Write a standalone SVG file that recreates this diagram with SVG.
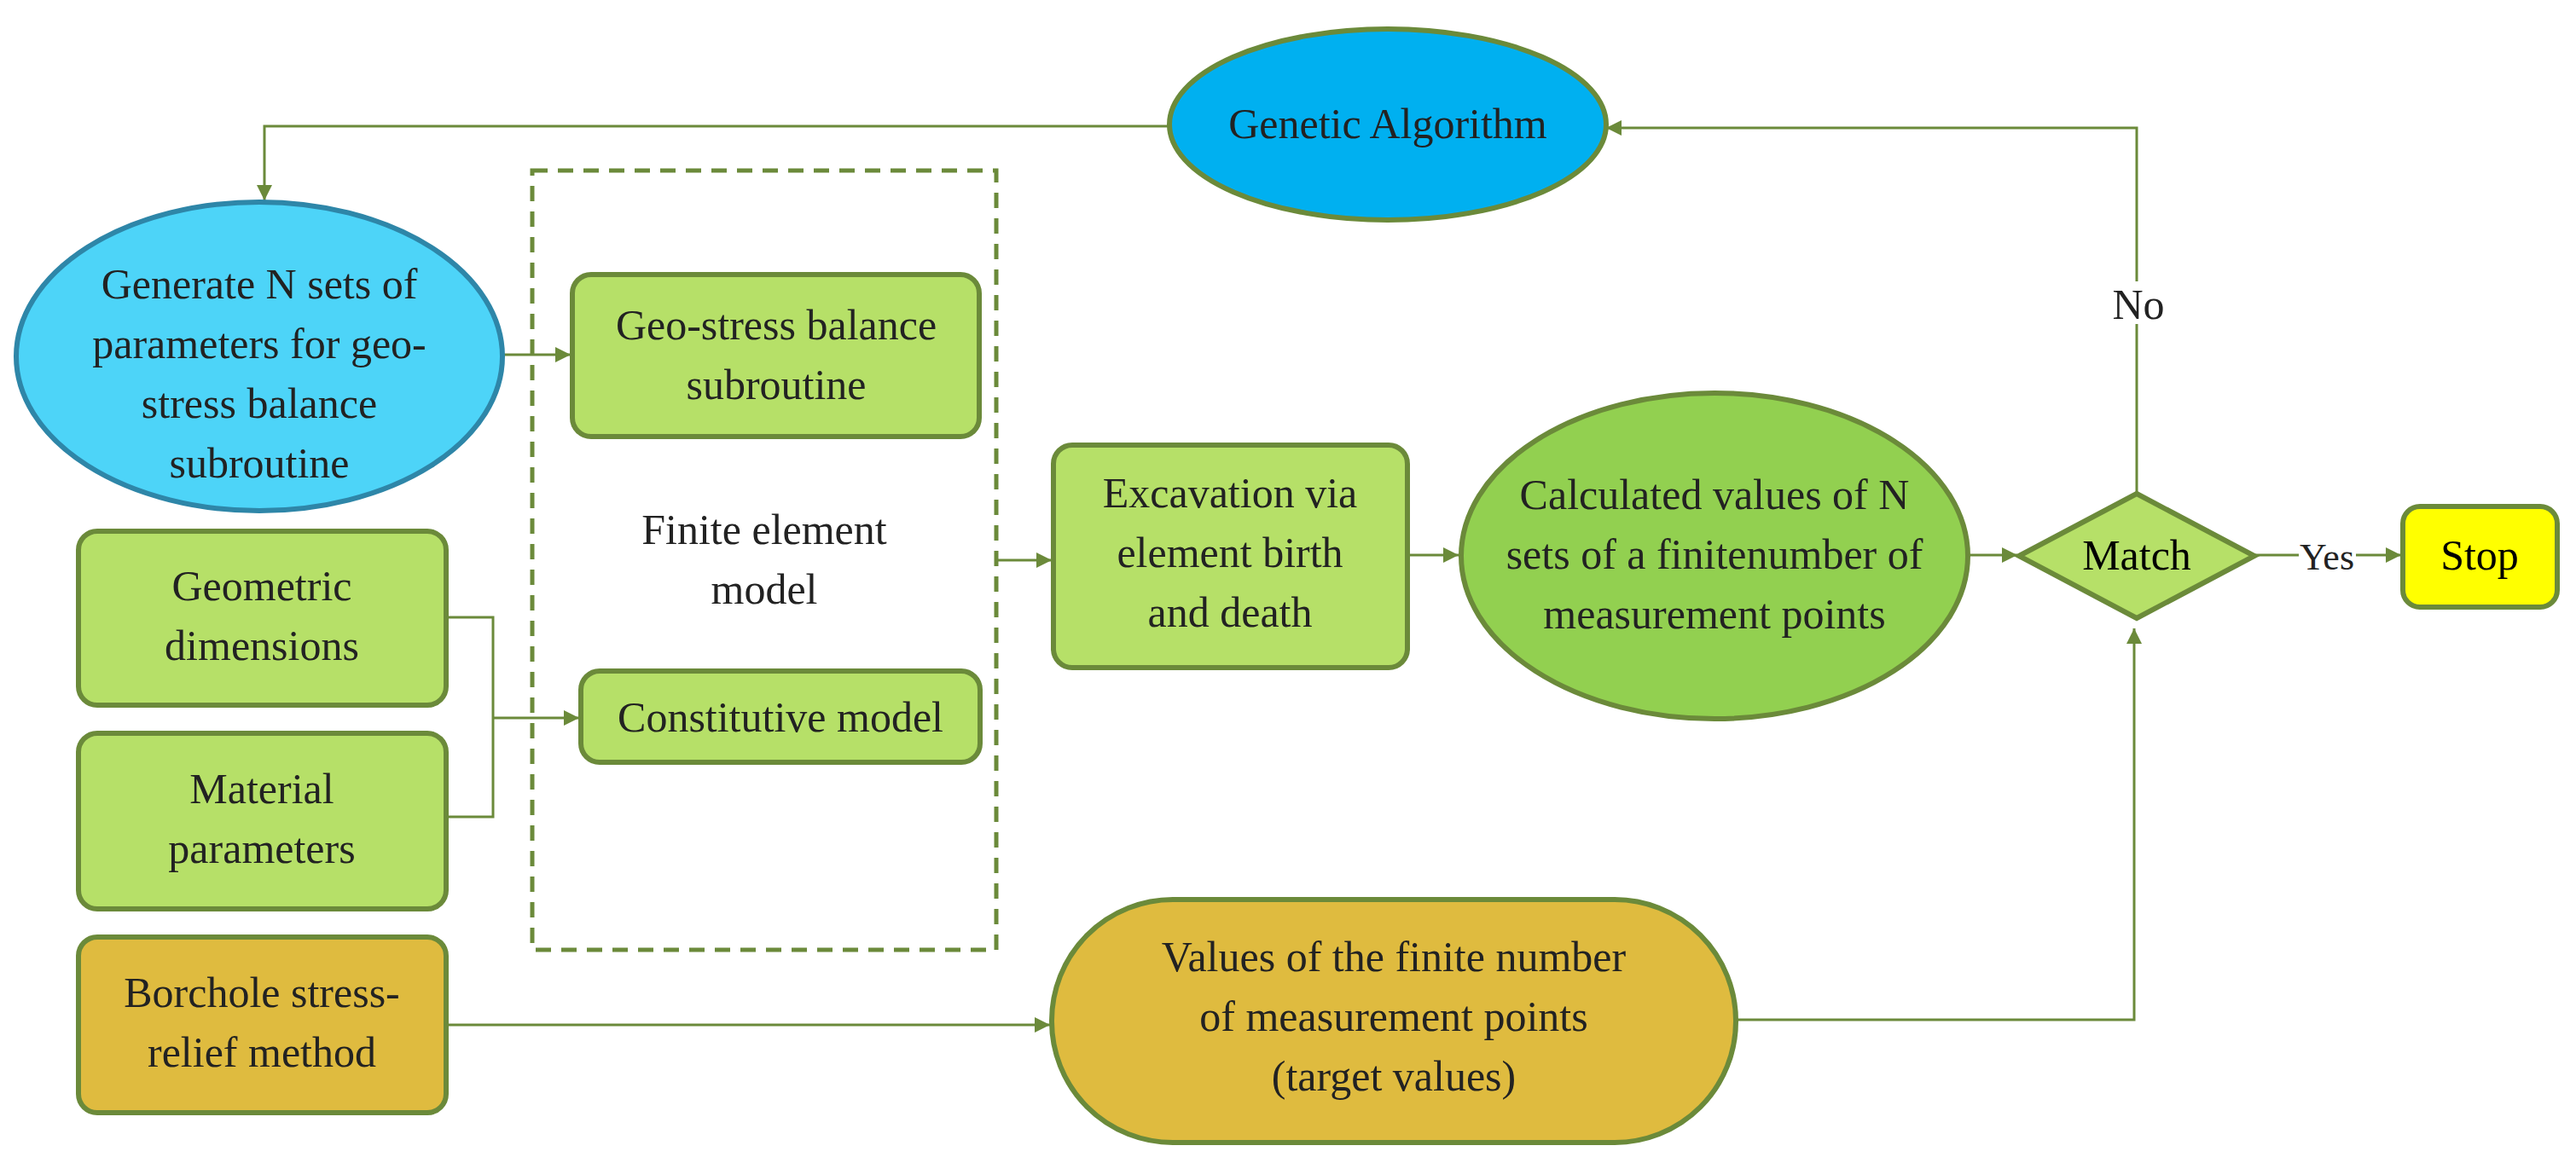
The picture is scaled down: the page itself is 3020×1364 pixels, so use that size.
<svg xmlns="http://www.w3.org/2000/svg" width="3020" height="1364" viewBox="0 0 3020 1364">
<defs>
<marker id="ah" viewBox="0 0 10 10" refX="10" refY="5" markerWidth="6" markerHeight="6" orient="auto" markerUnits="userSpaceOnUse" style="overflow:visible">
<path d="M0,0 L10,5 L0,10 z" fill="#6b8a3a" transform="scale(3)" transform-origin="10 5"/>
</marker>
<style>
text{font-family:"Liberation Serif","Times New Roman",serif;font-size:50px;fill:#222;text-anchor:middle}
.c{fill:none;stroke:#6b8a3a;stroke-width:3}
.g{fill:#b6e068;stroke:#6b8a3a;stroke-width:6}
</style>
</defs>
<rect width="3020" height="1364" fill="#fff"/>
<g id="connectors">
<path class="c" d="M1372,148 H310 V235" marker-end="url(#ah)"/>
<path class="c" d="M589,416 H669" marker-end="url(#ah)"/>
<path class="c" d="M523,724 H578 V958 H523 M578,842 H679" marker-end="url(#ah)"/>
<path class="c" d="M1168,657 H1233" marker-end="url(#ah)"/>
<path class="c" d="M1650,651 H1710" marker-end="url(#ah)"/>
<path class="c" d="M2307,651 H2365" marker-end="url(#ah)"/>
<path class="c" d="M2643,651 H2695 M2762,651 H2815" marker-end="url(#ah)"/>
<path class="c" d="M2505,579 V380 M2505,330 V150 H1883" marker-end="url(#ah)"/>
<path class="c" d="M523,1202 H1231" marker-end="url(#ah)"/>
<path class="c" d="M2035,1196 H2502 V737" marker-end="url(#ah)"/>
<text x="2507" y="374">No</text>
<text x="2728" y="668" style="font-size:44px">Yes</text>
</g>
<g id="ga"><ellipse cx="1627" cy="146" rx="256" ry="112" fill="#00b0f0" stroke="#6b8a3a" stroke-width="6"/><text x="1627" y="162">Genetic  Algorithm</text></g>
<g id="generate"><ellipse cx="304" cy="418" rx="285" ry="181" fill="#4dd4f8" stroke="#2e86a8" stroke-width="6"/>
<text x="304" y="350">Generate N sets of</text><text x="304" y="420">parameters for geo-</text><text x="304" y="490">stress balance</text><text x="304" y="560">subroutine</text></g>
<g id="fem"><rect x="624" y="200" width="544" height="914" fill="none" stroke="#6b8a3a" stroke-width="5" stroke-dasharray="18,12"/>
<text x="896" y="638">Finite element</text><text x="896" y="708">model</text></g>
<g id="geo"><rect class="g" x="671" y="322" width="477" height="190" rx="22"/><text x="910" y="398">Geo-stress balance</text><text x="910" y="468">subroutine</text></g>
<g id="const"><rect class="g" x="681" y="787" width="468" height="107" rx="22"/><text x="915" y="858">Constitutive model</text></g>
<g id="geom"><rect class="g" x="92" y="623" width="431" height="204" rx="22"/><text x="307" y="704">Geometric</text><text x="307" y="774">dimensions</text></g>
<g id="mat"><rect class="g" x="92" y="860" width="431" height="206" rx="22"/><text x="307" y="942">Material</text><text x="307" y="1012">parameters</text></g>
<g id="bor"><rect x="92" y="1099" width="431" height="206" rx="22" fill="#dfbb3f" stroke="#6b8a3a" stroke-width="6"/><text x="307" y="1181">Borchole stress-</text><text x="307" y="1251">relief method</text></g>
<g id="exc"><rect class="g" x="1235" y="522" width="415" height="261" rx="22"/><text x="1442" y="595">Excavation via</text><text x="1442" y="665">element birth</text><text x="1442" y="735">and death</text></g>
<g id="calc"><ellipse cx="2010" cy="652" rx="297" ry="191" fill="#92d050" stroke="#6b8a3a" stroke-width="6"/><text x="2010" y="597">Calculated values of  N</text><text x="2010" y="667">sets of a finitenumber of</text><text x="2010" y="737">measurement points</text></g>
<g id="match"><path d="M2367,652 L2505,579 L2643,652 L2505,725 z" class="g"/><text x="2505" y="668" style="fill:#000">Match</text></g>
<g id="stop"><rect x="2817" y="594" width="181" height="118" rx="20" fill="#ffff00" stroke="#6b8a3a" stroke-width="6"/><text x="2907" y="668" style="fill:#000">Stop</text></g>
<g id="values"><rect x="1233" y="1055" width="802" height="285" rx="142" fill="#dfbb3f" stroke="#6b8a3a" stroke-width="6"/><text x="1634" y="1139">Values of the finite number</text><text x="1634" y="1209">of measurement points</text><text x="1634" y="1279">(target values)</text></g>
</svg>
